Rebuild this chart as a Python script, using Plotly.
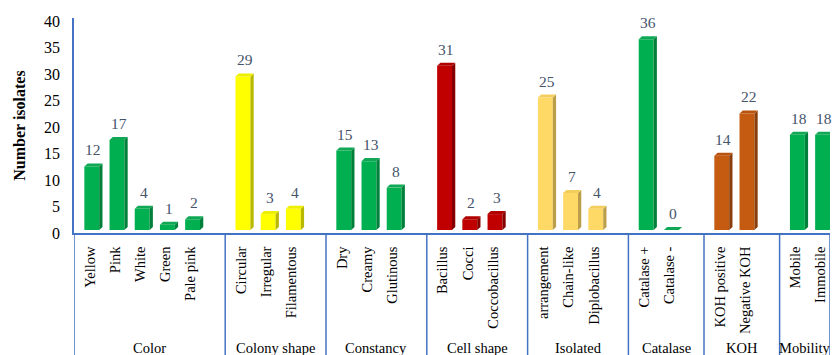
import plotly.graph_objects as go

# Characterisation of isolates: groups, categories and counts
groups = ["Color", "Colony shape", "Constancy", "Cell shape", "Isolated",
          "Catalase", "KOH", "Mobility"]
color_cats = ["Yellow", "Pink", "White", "Green", "Pale pink"]
color_vals = [12, 17, 4, 1, 2]
colony_cats = ["Circular", "Irregular", "Filamentous"]
colony_vals = [29, 3, 4]
constancy_cats = ["Dry", "Creamy", "Glutinous"]
constancy_vals = [15, 13, 8]
cell_cats = ["Bacillus", "Cocci", "Coccobacillus"]
cell_vals = [31, 2, 3]
isolated_cats = ["arrangement", "Chain-like", "Diplobacillus"]
isolated_vals = [25, 7, 4]
catalase_cats = ["Catalase +", "Catalase -"]
catalase_vals = [36, 0]
koh_cats = ["KOH positive", "Negative KOH"]
koh_vals = [14, 22]
mobility_cats = ["Mobile", "Immobile"]
mobility_vals = [18, 18]

all_cats = [color_cats, colony_cats, constancy_cats, cell_cats,
            isolated_cats, catalase_cats, koh_cats, mobility_cats]
all_vals = [color_vals, colony_vals, constancy_vals, cell_vals,
            isolated_vals, catalase_vals, koh_vals, mobility_vals]

# front / side / top face colours per group
palette = {
    "green": ("#00B050", "#00803A", "#10A855"),
    "yellow": ("#FFFF00", "#B8B800", "#EEEE00"),
    "red": ("#C00000", "#850000", "#B00000"),
    "sand": ("#FFD966", "#BB9E4A", "#F3CE5E"),
    "orange": ("#C55A11", "#8A3E0B", "#B8530F"),
}
group_colors = ["green", "yellow", "green", "red", "sand", "green",
                "orange", "green"]

DEPTH_Y = 0.57   # 3-D depth in y units
DEPTH_X = 0.13   # 3-D depth in x units
FRONT_L = -0.09  # front face left edge relative to slot centre
FRONT_R = 0.50   # front face right edge relative to slot centre
AXIS_BLUE = "#4472C4"
SERIF = "Liberation Serif"

fig = go.Figure()

tickvals, ticktext = [], []
boundaries = [-0.5]
annotations = []
slot = 0
for gi, (cats, vals) in enumerate(zip(all_cats, all_vals)):
    start = slot
    front, side, top = palette[group_colors[gi]]
    xs = [start + j for j in range(len(cats))]
    # front faces
    fig.add_trace(go.Bar(
        x=xs, y=vals, base=DEPTH_Y, width=FRONT_R - FRONT_L,
        offset=FRONT_L, marker=dict(color=front, line=dict(width=0)),
        hoverinfo="skip", showlegend=False))
    # side and top faces
    for x, v in zip(xs, vals):
        x0, x1 = x + FRONT_L, x + FRONT_R
        b, t = DEPTH_Y, DEPTH_Y + v
        fig.add_trace(go.Scatter(
            x=[x1, x1 + DEPTH_X, x1 + DEPTH_X, x1, x1],
            y=[b, b + DEPTH_Y, t + DEPTH_Y, t, b],
            fill="toself", fillcolor=side, mode="lines",
            line=dict(width=0, color=side), hoverinfo="skip",
            showlegend=False))
        fig.add_trace(go.Scatter(
            x=[x0, x1, x1 + DEPTH_X, x0 + DEPTH_X, x0],
            y=[t, t, t + DEPTH_Y, t + DEPTH_Y, t],
            fill="toself", fillcolor=top, mode="lines",
            line=dict(width=0, color=top), hoverinfo="skip",
            showlegend=False))
        annotations.append(dict(
            x=x + (FRONT_L + FRONT_R + DEPTH_X) / 2, y=t, xref="x", yref="y",
            text=str(v), showarrow=False, yanchor="bottom", yshift=6,
            font=dict(family=SERIF, size=15.5, color="#44546A")))
    for x, c in zip(xs, cats):
        tickvals.append(x + 0.13)
        ticktext.append(c)
    n_slots = len(cats) + (1 if gi < len(groups) - 1 else 0)
    slot += n_slots
    boundaries.append(slot - 0.5)
    annotations.append(dict(
        x=(start - 0.5 + slot - 0.5) / 2, y=-0.535, xref="x", yref="paper",
        text=groups[gi], showarrow=False, yanchor="middle",
        font=dict(family=SERIF, size=14.5, color="black")))

shapes = [dict(type="line", xref="x", yref="paper", x0=bx, x1=bx,
               y0=0, y1=-0.62, line=dict(color=AXIS_BLUE, width=1.5))
          for bx in boundaries]

fig.update_layout(
    width=834, height=355,
    margin=dict(l=74, r=4, t=18, b=122),
    paper_bgcolor="white", plot_bgcolor="white",
    barmode="overlay",
    showlegend=False,
    annotations=annotations,
    shapes=shapes,
    xaxis=dict(
        range=[-0.5, slot - 0.5], tickmode="array", tickvals=tickvals,
        ticktext=ticktext, tickangle=-90, showgrid=False, zeroline=False,
        showline=True, linecolor=AXIS_BLUE, linewidth=1.5, ticks="",
        ticklabelstandoff=6,
        tickfont=dict(family=SERIF, size=14.5, color="black")),
    yaxis=dict(
        range=[0, 40.6], tickmode="linear", tick0=0, dtick=5,
        showgrid=False, zeroline=False, showline=True,
        linecolor=AXIS_BLUE, linewidth=1.5, ticks="",
        ticklabelstandoff=9,
        tickfont=dict(family=SERIF, size=16, color="black"),
        title=dict(text="<b>Number isolates</b>", standoff=14,
                   font=dict(family=SERIF, size=16, color="black"))),
)

fig.write_html("out.html")
